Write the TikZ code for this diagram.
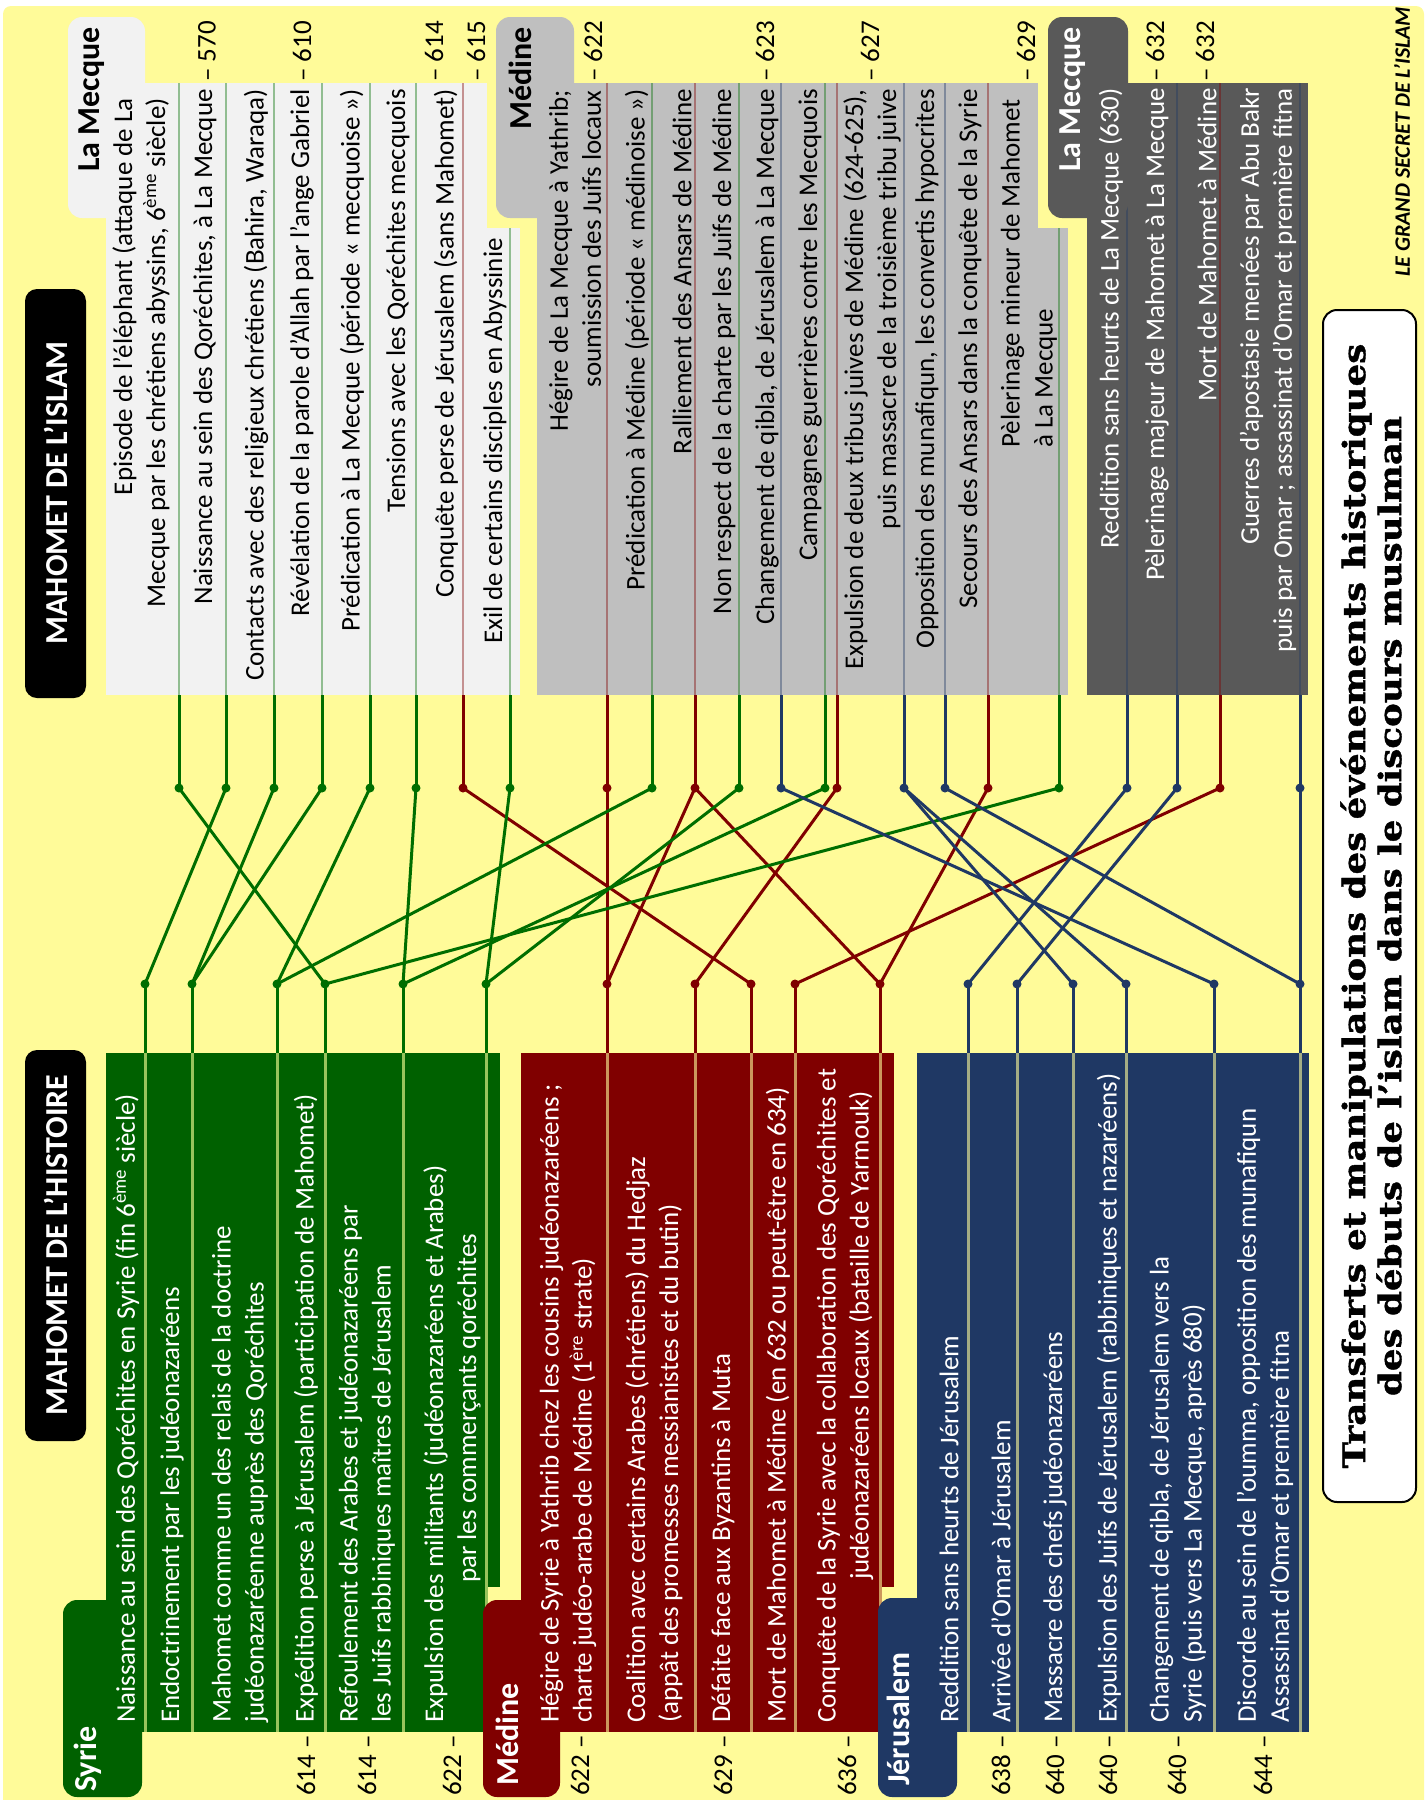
\documentclass[tikz,border=0pt]{standalone}
\usepackage{fontspec}
\setmainfont{Carlito}
\newfontfamily\titlefont{DejaVu Serif}[FakeStretch=1.15,BoldFeatures={FakeBold=1.2}]
\definecolor{bgyellow}{RGB}{255,251,153}
\definecolor{boxgreen}{RGB}{0,97,0}
\definecolor{cgreen}{RGB}{0,110,0}
\definecolor{cred}{RGB}{128,0,0}
\definecolor{cblue}{RGB}{31,56,100}
\definecolor{meclight}{RGB}{242,242,242}
\definecolor{medgray}{RGB}{191,191,191}
\definecolor{mecdark}{RGB}{89,89,89}

\begin{document}
\begin{tikzpicture}[x=1pt,y=-1pt,
  conn/.style={line width=3pt},
  rowtext/.style={rotate=90,inner sep=0pt,font=\fontsize{27}{33}\selectfont},
  histtext/.style={rowtext,anchor=west,align=left,text=white},
  islamtext/.style={rowtext,anchor=east,align=right,text=black},
  histyear/.style={rowtext,anchor=east},
  islamyear/.style={rowtext,anchor=west},
  grouplabel/.style={rotate=90,inner sep=0pt,font=\fontsize{32}{36}\selectfont\bfseries},
  header/.style={rotate=90,inner sep=0pt,text=white,font=\fontsize{32}{36}\selectfont\bfseries},
]
\useasboundingbox (0,0) rectangle (1427,1800);
\fill[white] (0,0) rectangle (1427,1800);
\fill[bgyellow, rounded corners=8] (3,6) rectangle (1424,1815);

% reference levels
\coordinate (it) at (0,83);    % top of the upper boxes
\coordinate (is) at (0,228);   % top of the narrow strips
\coordinate (ib) at (0,695);   % bottom of the upper boxes
\coordinate (hb) at (0,1053);  % top of the lower boxes
\coordinate (he) at (0,1732);  % end of the lower rows

% connector ends, upper side (islam)
\foreach \n/\x in {1/179,2/226,3/274,4/322,5/370,6/416,7/463,8/510,
  9/607,10/652,11/695,12/739,13/781,14/825,15/837,16/904,17/945,18/988,19/1059,
  20/1127,21/1177,22/1220,23/1300}
  \coordinate (i\n) at (\x,788);
% connector ends, lower side (history)
\foreach \n/\x in {1/145,2/192,3/277,4/325,5/403,6/486,
  7/607,8/695,9/751,10/795,11/880,
  12/968,13/1017,14/1073,15/1126,16/1214,17/1300}
  \coordinate (h\n) at (\x,984);

% ---- lower boxes (history)
\fill[boxgreen] (106,1053) rectangle (487,1732);
\fill[boxgreen] (487,1053) rectangle (500,1587);
\fill[cred] (521,1053) rectangle (880,1732);
\fill[cred] (880,1053) rectangle (894,1587);
\fill[cblue] (917,1053) rectangle (1309,1732);

% ---- upper boxes (islam)
\fill[meclight] (106,83) rectangle (487,695);
\fill[meclight] (487,228) rectangle (520,695);
\fill[medgray] (537,83) rectangle (1038,695);
\fill[medgray] (1038,228) rectangle (1068,695);
\fill[mecdark] (1087,83) rectangle (1308,695);

% row separators running through the boxes
\foreach \n/\c in {1/cgreen,2/cgreen,3/cgreen,4/cgreen,5/cgreen,6/cgreen,
  7/cred,8/cred,9/cred,10/cred,11/cred,
  12/cblue,13/cblue,14/cblue,15/cblue,16/cblue,17/cblue}
  \draw[line width=3pt, draw=\c!40!bgyellow] (h\n |- hb) -- (h\n |- he);
\foreach \n/\c/\t/\bx in {1/cgreen/it/meclight,2/cgreen/it/meclight,3/cgreen/it/meclight,
  4/cgreen/it/meclight,5/cgreen/it/meclight,6/cgreen/it/meclight,7/cred/it/meclight,
  8/cgreen/is/meclight,9/cred/it/medgray,10/cgreen/it/medgray,11/cred/it/medgray,
  12/cgreen/it/medgray,13/cblue/it/medgray,14/cgreen/it/medgray,15/cred/it/medgray,
  16/cblue/it/medgray,17/cblue/it/medgray,18/cred/it/medgray,19/cgreen/is/medgray,
  20/cblue/it/mecdark,21/cblue/it/mecdark,22/cred/it/mecdark,23/cblue/it/mecdark}
  \draw[line width=2.5pt, draw=\c!40!\bx] (i\n |- \t) -- (i\n |- ib);

% ---- tabs
\fill[boxgreen, rounded corners=14] (63,1600) rectangle (142,1797);
\fill[cred, rounded corners=14] (483,1600) rectangle (560,1797);
\fill[cblue, rounded corners=14] (878,1598) rectangle (957,1797);
\fill[meclight, rounded corners=14] (68,17) rectangle (145,218);
\fill[medgray, rounded corners=14] (496,17) rectangle (574,218);
\fill[mecdark, rounded corners=14] (1048,17) rectangle (1128,218);

% ---- headers
\fill[black, rounded corners=12] (25,289) rectangle (86,698);
\node[header] (hislam) at (55.5,493) {MAHOMET DE L’ISLAM};
\fill[black, rounded corners=12] (25,1050) rectangle (86,1441);
\node[header] (hhist) at (55.5,1245) {MAHOMET DE L’HISTOIRE};

% ---- connectors
\foreach \n/\c in {1/cgreen,2/cgreen,3/cgreen,4/cgreen,5/cgreen,6/cgreen,7/cred,8/cgreen,
  9/cred,10/cgreen,11/cred,12/cgreen,13/cblue,14/cgreen,15/cred,16/cblue,17/cblue,
  18/cred,19/cgreen,20/cblue,21/cblue,22/cred,23/cblue}
  \draw[conn, draw=\c] (i\n |- ib) -- (i\n);
\foreach \n/\c in {1/cgreen,2/cgreen,3/cgreen,4/cgreen,5/cgreen,6/cgreen,
  7/cred,8/cred,9/cred,10/cred,11/cred,
  12/cblue,13/cblue,14/cblue,15/cblue,16/cblue,17/cblue}
  \draw[conn, draw=\c] (h\n) -- (h\n |- hb);

\foreach \a/\b in {7/9,9/7,11/7,11/11,15/8,18/11,22/10}
  \draw[conn, draw=cred] (i\a) -- (h\b);
\foreach \a/\b in {1/4,2/1,3/2,4/2,5/3,6/5,8/6,10/3,12/6,14/5,19/4}
  \draw[conn, draw=cgreen] (i\a) -- (h\b);
\foreach \a/\b in {13/16,16/14,16/15,17/17,20/12,21/13,23/17}
  \draw[conn, draw=cblue] (i\a) -- (h\b);

\foreach \n/\c in {1/cgreen,2/cgreen,3/cgreen,4/cgreen,5/cgreen,6/cgreen,7/cred,8/cgreen,
  9/cred,10/cgreen,11/cred,12/cgreen,13/cblue,14/cgreen,15/cred,16/cblue,17/cblue,
  18/cred,19/cgreen,20/cblue,21/cblue,22/cred,23/cblue}
  \fill[fill=\c] (i\n) circle (4.5pt);
\foreach \n/\c in {1/cgreen,2/cgreen,3/cgreen,4/cgreen,5/cgreen,6/cgreen,
  7/cred,8/cred,9/cred,10/cred,11/cred,
  12/cblue,13/cblue,14/cblue,15/cblue,16/cblue,17/cblue}
  \fill[fill=\c] (h\n) circle (4.5pt);

% ---- group labels
\node[grouplabel, anchor=west, text=white] (lsyrie) at (88,1792) {Syrie};
\node[grouplabel, anchor=west, text=white] (lmedineh) at (507,1786) {Médine};
\node[grouplabel, anchor=west, text=white] (ljerusalem) at (898,1786) {Jérusalem};
\node[grouplabel, anchor=east] (lmecque) at (92,27) {La Mecque};
\node[grouplabel, anchor=east] (lmedinei) at (520,27) {Médine};
\node[grouplabel, anchor=east, text=white] (lmecqueb) at (1073,27) {La Mecque};

% ---- history rows: Syrie
\node[histtext] (s1) at (126,1723) {Naissance au sein des Qoréchites en Syrie (fin 6\textsuperscript{ème} siècle)};
\node[histtext] (s2) at (172,1723) {Endoctrinement  par les judéonazaréens};
\node[histtext] (s3) at (240,1723) {Mahomet comme un des relais de la doctrine\\judéonazaréenne auprès des Qoréchites};
\node[histtext] (s4) at (306,1723) {Expédition perse à Jérusalem (participation de Mahomet)};
\node[histtext] (s5) at (367,1723) {Refoulement des Arabes et judéonazaréens par\\les Juifs rabbiniques maîtres de Jérusalem};
\node[histtext] (s6) at (452,1723) {Expulsion des militants  (judéonazaréens et Arabes)\\\hspace*{140pt}par les commerçants qoréchites};
% Médine
\node[histtext] (m1) at (568,1723) {Hégire de Syrie à Yathrib chez les cousins judéonazaréens ;\\charte judéo-arabe de Médine (1\textsuperscript{ère} strate)};
\node[histtext] (m2) at (654,1723) {Coalition avec certains Arabes (chrétiens) du Hedjaz\\(appât des promesses messianistes et du butin)};
\node[histtext] (m3) at (723,1723) {Défaite face aux Byzantins à Muta};
\node[histtext] (m4) at (778,1723) {Mort de Mahomet à Médine (en 632 ou peut-être en 634)};
\node[histtext] (m5) at (845,1723) {Conquête de la Syrie avec la collaboration des Qoréchites et\\\hspace*{143pt}judéonazaréens locaux (bataille de Yarmouk)};
% Jérusalem
\node[histtext] (j1) at (949,1723) {Reddition sans heurts de Jérusalem};
\node[histtext] (j2) at (1001,1723) {Arrivée d’Omar à Jérusalem};
\node[histtext] (j3) at (1055,1723) {Massacre des chefs judéonazaréens};
\node[histtext] (j4) at (1109,1723) {Expulsion des Juifs de Jérusalem  (rabbiniques et nazaréens)};
\node[histtext] (j5) at (1178,1723) {Changement de qibla, de Jérusalem vers la\\Syrie (puis vers La Mecque, après 680)};
\node[histtext] (j6) at (1265,1723) {Discorde au sein de l’oumma, opposition des munafiqun\\Assassinat d’Omar et première fitna};

% history years
\foreach \n/\x/\y in {1/306/614,2/367/614,3/452/622,4/580/622,5/723/629,6/847/636,
  7/1001/638,8/1055/640,9/1108/640,10/1177/640,11/1263/644}
  \node[histyear] (hy\n) at (\x,1735) {\y\ –};

% ---- islam rows: La Mecque
\node[islamtext] (a1) at (141,98) {Episode de l’éléphant (attaque  de La\\Mecque par les chrétiens abyssins, 6\textsuperscript{ème} siècle)};
\node[islamtext] (a2) at (205,89) {Naissance au sein des Qoréchites, à La Mecque};
\node[islamtext] (a3) at (256,89) {Contacts avec des religieux chrétiens (Bahira, Waraqa)};
\node[islamtext] (a4) at (302,89) {Révélation de la parole d’Allah par l’ange Gabriel};
\node[islamtext] (a5) at (352,89) {Prédication à La Mecque (période « mecquoise »)};
\node[islamtext] (a6) at (398,89) {Tensions avec les Qoréchites mecquois};
\node[islamtext] (a7) at (446,89) {Conquête perse de Jérusalem (sans Mahomet)};
\node[islamtext] (a8) at (495,238) {Exil de certains disciples en Abyssinie};
% Médine
\node[islamtext] (b1) at (575,90) {Hégire de La Mecque à Yathrib;\\soumission des Juifs locaux};
\node[islamtext] (b2) at (637,89) {Prédication à Médine (période « médinoise »)};
\node[islamtext] (b3) at (682,89) {Ralliement des Ansars de Médine};
\node[islamtext] (b4) at (724,89) {Non respect de la charte par les Juifs de Médine};
\node[islamtext] (b5) at (767,89) {Changement de qibla, de Jérusalem à La Mecque};
\node[islamtext] (b6) at (810,89) {Campagnes guerrières contre les Mecquois};
\node[islamtext] (b7) at (872,89) {Expulsion de deux tribus juives de Médine (624-625),\\puis massacre de la troisième tribu juive};
\node[islamtext] (b8) at (927,89) {Opposition des munafiqun,  les convertis hypocrites};
\node[islamtext] (b9) at (970,89) {Secours des Ansars dans la conquête de la Syrie};
\node[rowtext, anchor=west, align=left] (b10) at (1029,448) {Pèlerinage mineur de Mahomet\\à La Mecque};
% La Mecque (second stay)
\node[islamtext, text=white] (c1) at (1111,88) {Reddition sans heurts de La Mecque (630)};
\node[islamtext, text=white] (c2) at (1157,88) {Pèlerinage majeur de Mahomet à La Mecque};
\node[islamtext, text=white] (c3) at (1207,88) {Mort de Mahomet à Médine};
\node[islamtext, text=white] (c4) at (1268,88) {Guerres d’apostasie  menées par Abu Bakr\\puis par Omar ; assassinat d’Omar et première  fitna};

% islam years
\foreach \n/\x/\y in {1/207/570,2/302/610,3/434/614,4/476/615,5/593/622,6/765/623,
  7/870/627,8/1026/629,9/1155/632,10/1205/632}
  \node[islamyear] (iy\n) at (\x,82) {– \y};

% ---- title
\draw[black, line width=2pt, fill=white, rounded corners=14] (1323,310) rectangle (1416,1502);
\node[rotate=90, align=center, inner sep=0pt,
  font=\titlefont\bfseries\fontsize{31}{36}\selectfont] (title) at (1371,906)
  {Transferts et manipulations des événements historiques\\des débuts de l’islam dans le discours musulman};
\node[rotate=90, anchor=west, inner sep=0pt,
  font=\fontsize{22}{26}\selectfont\bfseries\itshape] (credit) at (1402,277) {LE GRAND SECRET DE L’ISLAM};
\end{tikzpicture}
\end{document}
